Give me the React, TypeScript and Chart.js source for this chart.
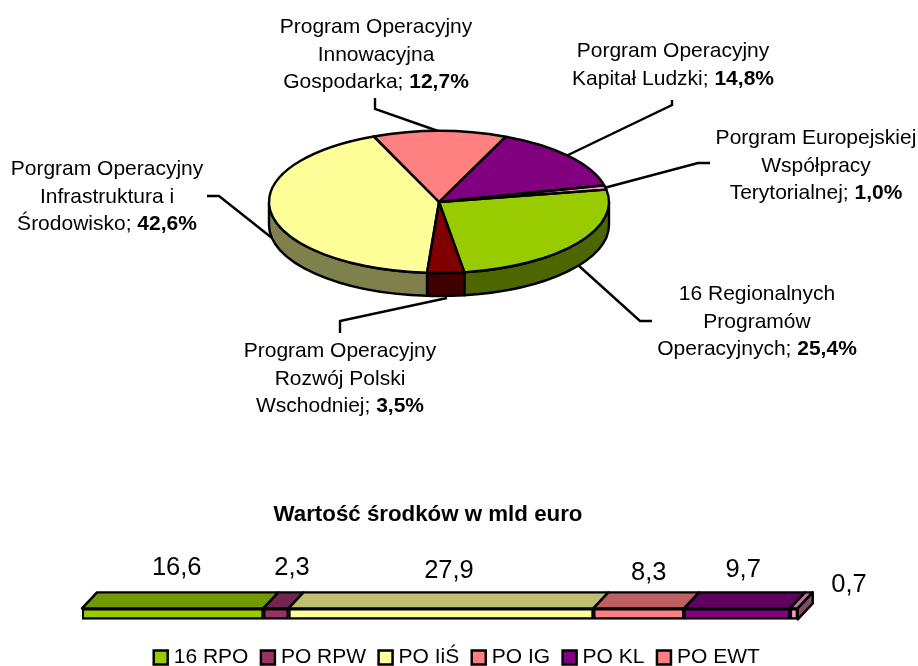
import React, { useEffect, useRef } from "react";
import { Chart, registerables } from "chart.js";

Chart.register(...registerables);

const FONT = '"Liberation Sans", Arial, sans-serif';

// ---------- pie data ----------
const pieNames = ["16 RPO", "PO RPW", "PO IiŚ", "PO IG", "PO KL", "PO EWT"];
const pieValues = [25.4, 3.5, 42.6, 12.7, 14.8, 1.0];
const pieColors = ["#99CC00", "#800000", "#FFFF99", "#FF8080", "#800080", "#FF99CC"];
const pieSideColors = ["#4D6600", "#400000", "#80804D", "#804040", "#400040", "#804D66"];
const pieLabelLines = [
  ["16 Regionalnych", "Programów", "Operacyjnych; "],
  ["Program Operacyjny", "Rozwój Polski", "Wschodniej; "],
  ["Porgram Operacyjny", "Infrastruktura i", "Środowisko; "],
  ["Program Operacyjny", "Innowacyjna", "Gospodarka; "],
  ["Porgram Operacyjny", "Kapitał Ludzki; "],
  ["Porgram Europejskiej", "Współpracy", "Terytorialnej; "],
];

// ---------- bar data ----------
const barNames = ["16 RPO", "PO RPW", "PO IiŚ", "PO IG", "PO KL", "PO EWT"];
const barValues = [16.6, 2.3, 27.9, 8.3, 9.7, 0.7];
const barColors = ["#99CC00", "#993366", "#FFFF99", "#FF8080", "#800080", "#FF99CC"];
const barTopColors = ["#739900", "#73264D", "#BFBF73", "#BF6060", "#600060", "#BF7399"];
const legendColors = ["#99CC00", "#993366", "#FFFF99", "#FF8080", "#800080", "#FF8080"];
const barTitle = "Wartość środków w mld euro";

// ---------- layout (annotation placement only) ----------
const SQUASH = 71 / 170;
const DEPTH = 23;
const labelPlacement = [
  { x: 757, y: 300 },
  { x: 340, y: 357 },
  { x: 107, y: 175 },
  { x: 376, y: 33 },
  { x: 673, y: 57 },
  { x: 816, y: 144 },
];
const leaders = [
  [[578, 265], [640, 321], [652, 321]],
  [[447, 298], [340, 321], [340, 333]],
  [[272, 238], [219, 196], [207, 196]],
  [[438, 131], [375, 109], [375, 98]],
  [[566, 156], [672, 105], [672, 100]],
  [[604, 188], [698, 163], [710, 163]],
];
const barLabelOffsets = [
  { dx: 4, y: 85 },
  { dx: 16, y: 85 },
  { dx: 8, y: 88 },
  { dx: 10, y: 90 },
  { dx: 6, y: 87 },
  { dx: 55, y: 102 },
];

const fmt = (v: number) => v.toFixed(1).replace(".", ",");

const piePlugin = {
  id: "pie3d",
  beforeDatasetsDraw(chart: any) {
    const ctx = chart.ctx;
    const arcs = chart.getDatasetMeta(0).data;
    const { x: cx, y: cy, outerRadius: r } = arcs[0];
    const ry = r * SQUASH;
    // leader lines lie under the pie
    ctx.save();
    ctx.strokeStyle = "#000";
    ctx.lineWidth = 2.4;
    ctx.lineJoin = "miter";
    leaders.forEach((pts) => {
      ctx.beginPath();
      pts.forEach(([x, y], i) => (i ? ctx.lineTo(x, y) : ctx.moveTo(x, y)));
      ctx.stroke();
    });
    // side wall: the visible part of each slice lies on the front half
    ctx.lineWidth = 2.4;
    ctx.lineJoin = "round";
    arcs.forEach((arc: any, i: number) => {
      const TWO = Math.PI * 2;
      let s = arc.startAngle;
      let e = arc.endAngle;
      while (s >= TWO) { s -= TWO; e -= TWO; }
      const a = Math.max(s, 0);
      const b = Math.min(e, Math.PI);
      if (b <= a) return;
      ctx.beginPath();
      ctx.ellipse(cx, cy, r, ry, 0, a, b);
      ctx.ellipse(cx, cy + DEPTH, r, ry, 0, b, a, true);
      ctx.closePath();
      ctx.fillStyle = pieSideColors[i];
      ctx.fill();
      ctx.stroke();
    });
    ctx.restore();
    // squash the library's own arcs into the tilted ellipse
    ctx.save();
    ctx.translate(cx, cy);
    ctx.scale(1, SQUASH);
    ctx.translate(-cx, -cy);
  },
  afterDatasetsDraw(chart: any) {
    const ctx = chart.ctx;
    ctx.restore();
    const arcs = chart.getDatasetMeta(0).data;
    ctx.save();
    ctx.strokeStyle = "#000";
    ctx.lineWidth = 2.4;
    ctx.lineJoin = "round";
    arcs.forEach((arc: any) => {
      ctx.beginPath();
      ctx.moveTo(arc.x, arc.y);
      ctx.ellipse(arc.x, arc.y, arc.outerRadius, arc.outerRadius * SQUASH, 0, arc.startAngle, arc.endAngle);
      ctx.closePath();
      ctx.stroke();
    });
    // labels
    ctx.fillStyle = "#000";
    ctx.textBaseline = "alphabetic";
    ctx.textAlign = "left";
    const regular = `21px ${FONT}`;
    const bold = `bold 21px ${FONT}`;
    pieLabelLines.forEach((lines, i) => {
      const { x, y } = labelPlacement[i];
      lines.forEach((line, j) => {
        const isLast = j === lines.length - 1;
        const pct = isLast ? `${fmt(pieValues[i])}%` : "";
        ctx.font = regular;
        const w1 = ctx.measureText(line).width;
        ctx.font = bold;
        const w2 = pct ? ctx.measureText(pct).width : 0;
        const left = x - (w1 + w2) / 2;
        const yy = y + j * 27.5;
        ctx.font = regular;
        ctx.fillText(line, left, yy);
        if (pct) {
          ctx.font = bold;
          ctx.fillText(pct, left + w1, yy);
        }
      });
    });
    ctx.restore();
  },
};

const DX = 15;
const DY = 16;

const barPlugin = {
  id: "bar3d",
  afterLayout(chart: any) {
    // the title sits a little left of the legend's centre
    chart.titleBlock.left -= 62;
  },
  afterDatasetsDraw(chart: any) {
    const ctx = chart.ctx;
    ctx.save();
    ctx.strokeStyle = "#000";
    ctx.lineWidth = 2.4;
    ctx.lineJoin = "round";
    const n = chart.data.datasets.length;
    chart.data.datasets.forEach((_: any, i: number) => {
      const el = chart.getDatasetMeta(i).data[0];
      const top = el.y - el.height / 2;
      ctx.beginPath();
      ctx.moveTo(el.base, top);
      ctx.lineTo(el.base + DX, top - DY);
      ctx.lineTo(el.x + DX, top - DY);
      ctx.lineTo(el.x, top);
      ctx.closePath();
      ctx.fillStyle = barTopColors[i];
      ctx.fill();
      ctx.stroke();
      if (i === n - 1) {
        const bottom = el.y + el.height / 2;
        ctx.beginPath();
        ctx.moveTo(el.x, top);
        ctx.lineTo(el.x + DX, top - DY);
        ctx.lineTo(el.x + DX, bottom - DY);
        ctx.lineTo(el.x, bottom);
        ctx.closePath();
        ctx.fillStyle = "#804D66";
        ctx.fill();
        ctx.stroke();
      }
      const o = barLabelOffsets[i];
      ctx.fillStyle = "#000";
      ctx.font = `25.5px ${FONT}`;
      ctx.textAlign = "center";
      ctx.textBaseline = "alphabetic";
      ctx.fillText(fmt(barValues[i]), (el.x + el.base) / 2 + o.dx, o.y);
    });
    ctx.restore();
  },
};

export default function App() {
  const pieRef = useRef<HTMLCanvasElement>(null);
  const barRef = useRef<HTMLCanvasElement>(null);

  useEffect(() => {
    const pie = new Chart(pieRef.current as any, {
      type: "pie",
      data: {
        labels: pieNames,
        datasets: [{ data: pieValues, backgroundColor: pieColors, borderWidth: 0 }],
      },
      options: {
        responsive: false,
        animation: false,
        devicePixelRatio: 1,
        rotation: 80,
        layout: { padding: { left: 0, right: 40, top: 32, bottom: 48 } },
        plugins: { legend: { display: false }, tooltip: { enabled: false }, title: { display: false } },
      } as any,
      plugins: [piePlugin],
    });

    const bar = new Chart(barRef.current as any, {
      type: "bar",
      data: {
        labels: ["Wartość"],
        datasets: barNames.map((name, i) => ({
          label: name,
          data: [barValues[i]],
          backgroundColor: barColors[i],
          borderColor: "#000",
          borderWidth: 2.4,
          borderSkipped: false,
          barThickness: 11,
        })),
      },
      options: {
        indexAxis: "y",
        responsive: false,
        animation: false,
        devicePixelRatio: 1,
        layout: { padding: { left: 82, right: 82, top: 0, bottom: 0 } },
        scales: {
          x: { stacked: true, display: false, min: 0, max: 69 },
          y: { stacked: true, display: false },
        },
        plugins: {
          tooltip: { enabled: false },
          title: {
            display: true,
            text: barTitle,
            color: "#000",
            font: { family: FONT, size: 22.3, weight: "bold" },
            padding: { top: 11, bottom: 70 },
          },
          legend: {
            position: "bottom",
            labels: {
              color: "#000",
              font: { family: FONT, size: 21 },
              usePointStyle: true,
              boxWidth: 5,
              boxHeight: 14,
              padding: 17,
              generateLabels(chart: any) {
                return Chart.defaults.plugins.legend.labels
                  .generateLabels(chart)
                  .map((it: any, i: number) => ({
                    ...it,
                    fillStyle: legendColors[i],
                    strokeStyle: "#000",
                    lineWidth: 2.5,
                    pointStyle: "rect",
                  }));
              },
            },
          },
        },
      } as any,
      plugins: [barPlugin],
    });

    return () => {
      pie.destroy();
      bar.destroy();
    };
  }, []);

  return (
    <div style={{ position: "absolute", left: 0, top: 0, width: 918, height: 666, background: "#fff", overflow: "hidden" }}>
      <canvas ref={pieRef} width={918} height={420} style={{ position: "absolute", left: 0, top: 0 }} />
      <canvas ref={barRef} width={918} height={188} style={{ position: "absolute", left: 0, top: 490 }} />
    </div>
  );
}
